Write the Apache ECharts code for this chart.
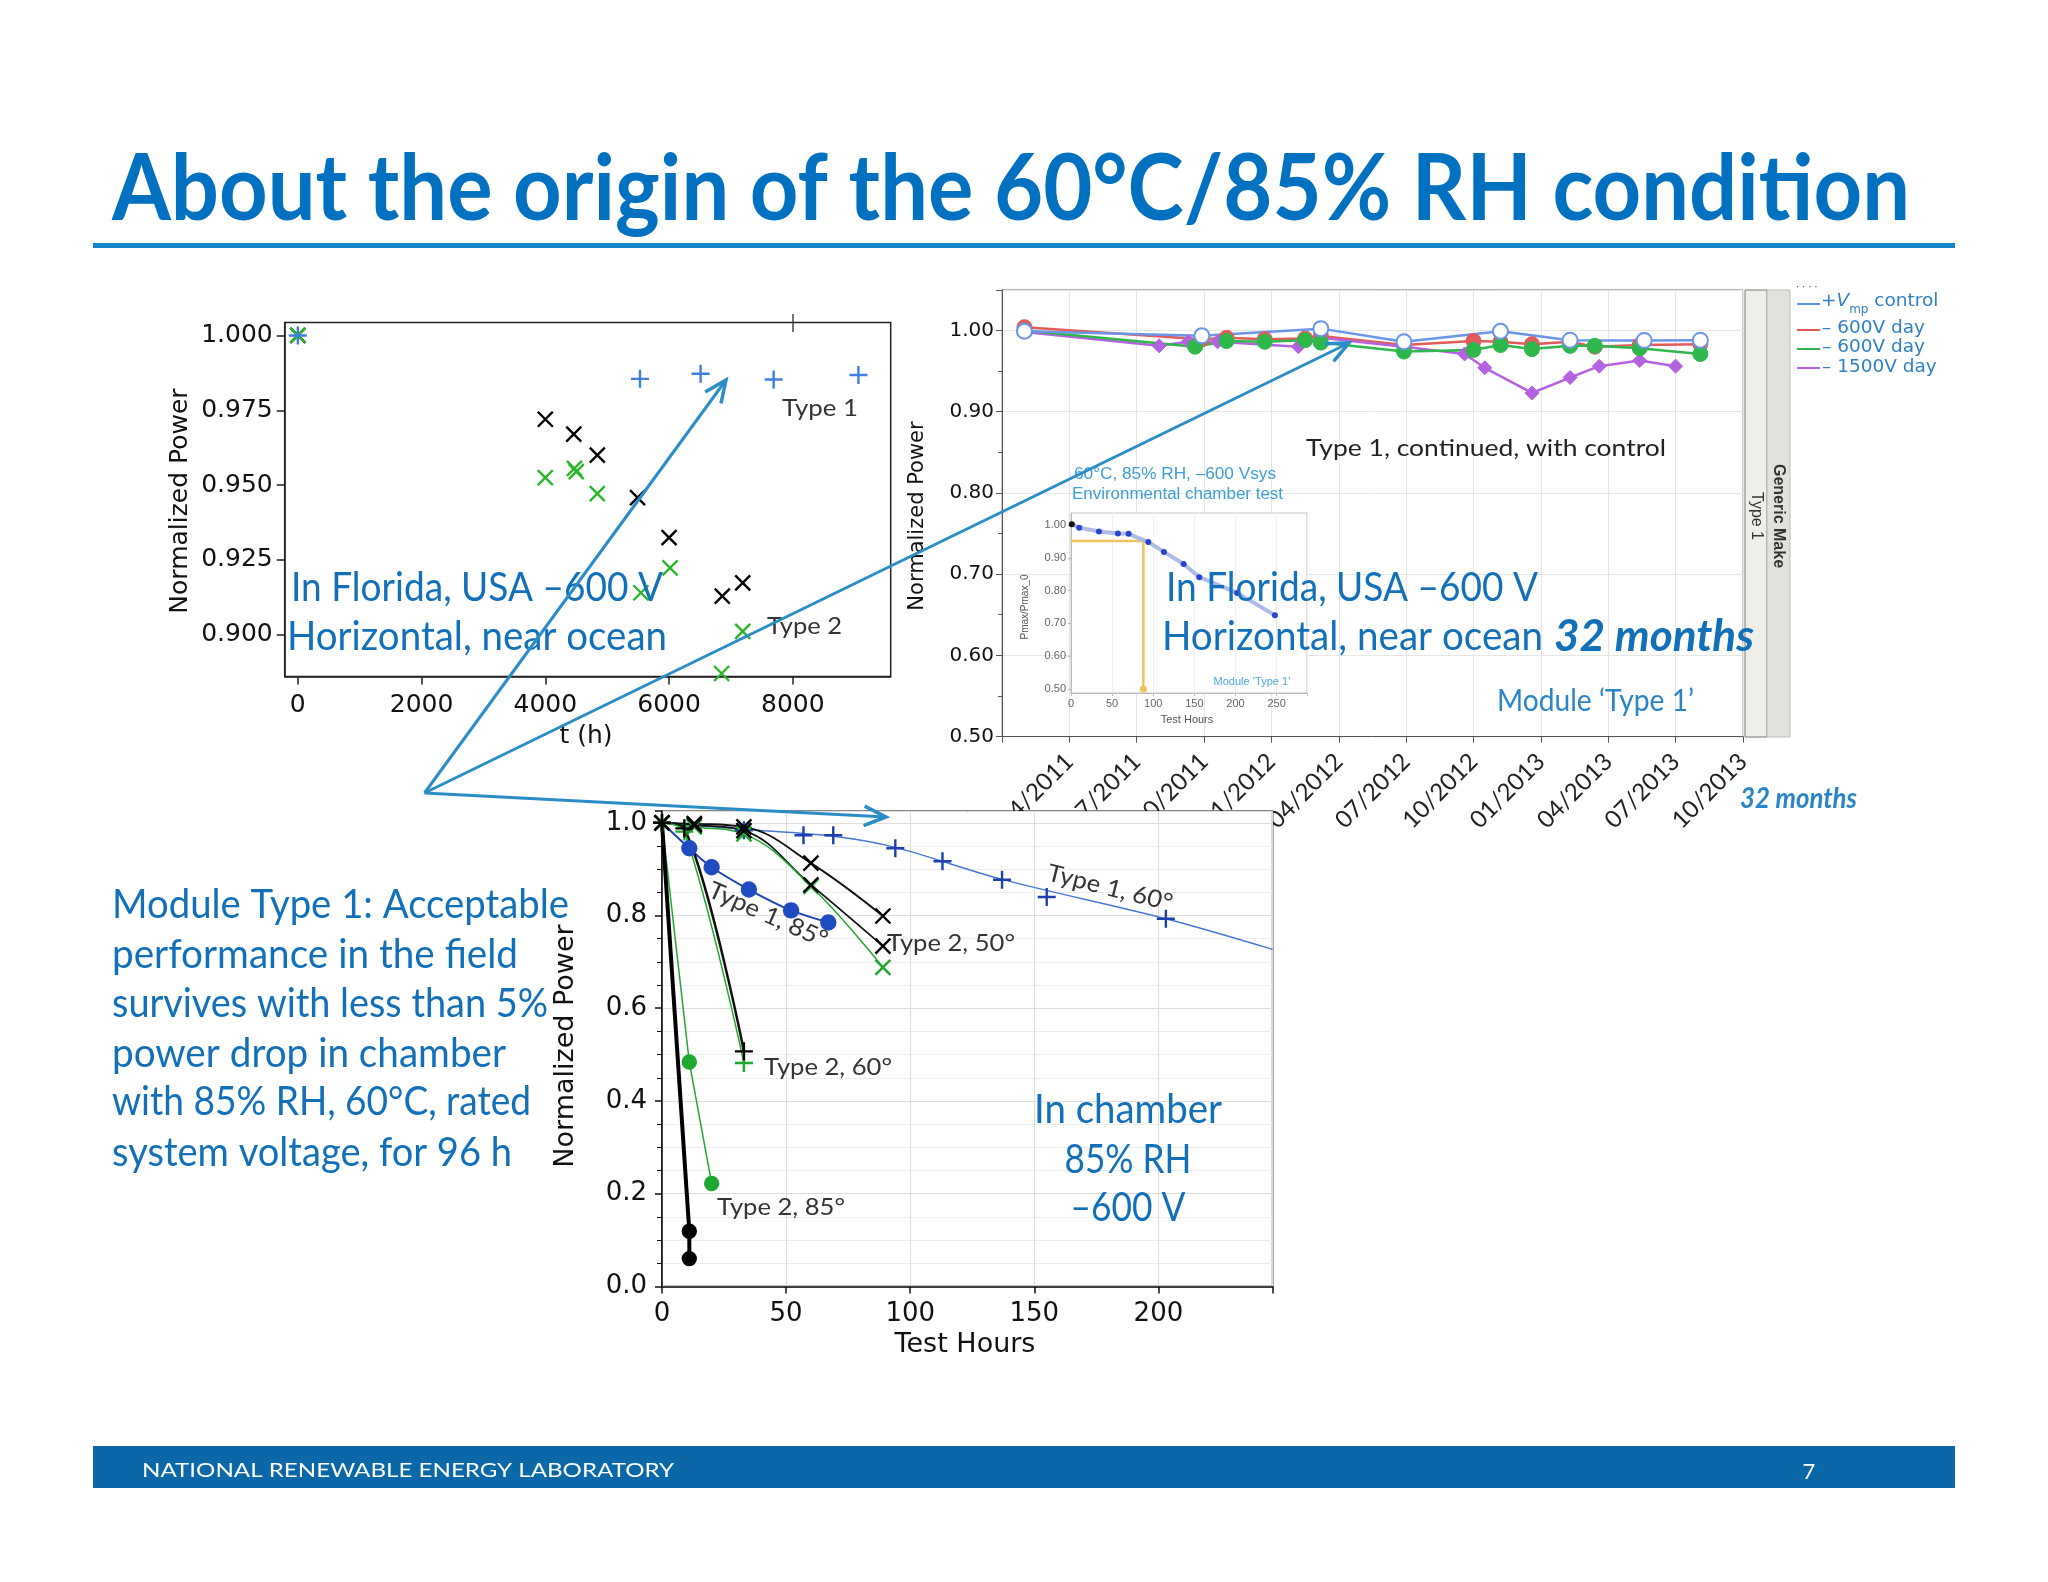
<!DOCTYPE html>
<html>
<head>
<meta charset="utf-8">
<title>About the origin of the 60°C/85% RH condition</title>
<script src="https://cdn.jsdelivr.net/npm/echarts@6.0.0/dist/echarts.min.js"></script>
<style>
  html, body { margin: 0; padding: 0; background: #fff; overflow: hidden; }
  #slide { width: 2048px; height: 1582px; }
</style>
</head>
<body>
<div id="slide"></div>
<script>
// ---- top left: field exposure in Florida, t (h) vs normalized power
var fieldType1 = [[0, 1.000], [5530, 0.9855], [6510, 0.9872], [7690, 0.9853], [9060, 0.9868]];
var fieldType2Black = [[0, 1.000], [4000, 0.9720], [4460, 0.9670], [4840, 0.9600], [5490, 0.9458],
  [6000, 0.9324], [6860, 0.9129], [7190, 0.9173]];
var fieldType2Green = [[0, 1.000], [4000, 0.9525], [4470, 0.9556], [4500, 0.9545], [4840, 0.9471],
  [5545, 0.9140], [6016, 0.9223], [7190, 0.9011], [6850, 0.8870]];
var fieldTicksX = [0, 2000, 4000, 6000, 8000];
var fieldTicksY = [0.900, 0.925, 0.950, 0.975, 1.000];

// ---- top right: 32 months outdoors, x = months counted from 01/2011
var dateTicks = ['', '04/2011', '07/2011', '10/2011', '01/2012', '04/2012', '07/2012',
  '10/2012', '01/2013', '04/2013', '07/2013', '10/2013'];
var controlPoints = [[1.0, 0.999], [8.9, 0.9934], [14.2, 1.0022], [17.9, 0.986], [22.2, 0.999],
  [25.3, 0.988], [28.6, 0.9877], [31.1, 0.988]];
var neg600aPoints = [[1.0, 1.004], [8.9, 0.989], [10.0, 0.991], [11.7, 0.989], [13.5, 0.990],
  [14.2, 0.993], [17.9, 0.982], [21.0, 0.987], [22.2, 0.986], [23.6, 0.983], [25.3, 0.986],
  [26.4, 0.980], [28.4, 0.982], [31.1, 0.983]];
var neg600bPoints = [[1.0, 1.000], [8.6, 0.980], [10.0, 0.987], [11.7, 0.986], [13.5, 0.988],
  [14.2, 0.985], [17.9, 0.974], [21.0, 0.976], [22.2, 0.982], [23.6, 0.977], [25.3, 0.981],
  [26.4, 0.981], [28.4, 0.978], [31.1, 0.971]];
var neg1500Points = [[1.0, 0.998], [7.0, 0.981], [8.3, 0.986], [9.6, 0.986], [13.2, 0.980],
  [14.2, 0.991], [17.9, 0.980], [20.6, 0.971], [21.5, 0.954], [23.6, 0.923], [25.3, 0.942],
  [26.6, 0.956], [28.4, 0.963], [30.0, 0.956]];

// ---- inset: environmental chamber test, module 'Type 1'
var insetHours = [1, 10, 34, 57, 70, 94, 113, 137, 156, 202, 248];
var insetPower = [1.002, 0.992, 0.980, 0.974, 0.973, 0.948, 0.918, 0.881, 0.841, 0.793, 0.725];
var insetLimit = [[0, 0.951], [88, 0.951], [88, 0.5]];
var insetTicksY = [0.5, 0.6, 0.7, 0.8, 0.9, 1.0];

// ---- bottom: chamber, test hours vs normalized power
var t1At60 = [[0, 1.0], [33, 0.984], [57, 0.973], [69, 0.973], [94, 0.945], [113, 0.917],
  [137, 0.877], [155, 0.840], [203, 0.793]];
var t1At60Fit = [[0, 1.0], [33, 0.986], [69, 0.971], [94, 0.947], [137, 0.878], [203, 0.793], [246, 0.727]];
var t1At85 = [[0, 1.0], [11, 0.945], [20, 0.904], [35, 0.856], [52, 0.811], [67, 0.785]];
var t2At50a = [[0, 1.0], [13, 0.998], [33, 0.991], [60, 0.913], [89, 0.799]];
var t2At50b = [[0, 1.0], [13, 0.995], [33, 0.983], [60, 0.866], [89, 0.734]];
var t2At50c = [[0, 1.0], [13, 0.991], [33, 0.976], [60, 0.863], [89, 0.688]];
var t2At60a = [[0, 1.0], [9, 0.988], [33, 0.507]];
var t2At60b = [[0, 1.0], [9, 0.981], [33, 0.482]];
var t2At85a = [[0, 1.0], [11, 0.484], [20, 0.222]];
var t2At85b = [[0, 1.0], [11, 0.119], [11, 0.060]];
var limitPower = 0.946;
var limitHours = 95;

var legendLabels = ['+V', '– 600V day', '– 600V day', '– 1500V day'];
var legendColors = ['#5f8fe6', '#e05a5a', '#33b04c', '#b062e0'];

var blueText = '#1270b9';
var arrowBlue = '#2b8dc7';
var axisFont = 'DejaVu Sans';
var crossPath = 'path://M-1,-1L1,1M-1,1L1,-1';
var plusPath = 'path://M-1,0L1,0M0,-1L0,1';

var measureCtx = document.createElement('canvas').getContext('2d');
function measure(text, size, family, weight, italic) {
  measureCtx.font = (italic ? 'italic ' : '') + (weight || 'normal') + ' ' + size + 'px "' + family + '"';
  return measureCtx.measureText(text).width;
}

// text element; if width is given the text is squeezed to that width
function txt(text, x, y, o) {
  o = o || {};
  var size = o.size || 24, family = o.family || 'Lato', weight = o.weight || 'normal';
  var sx = o.width ? o.width / measure(text, size, family, weight, o.italic) : 1;
  return {
    type: 'text', x: x, y: y, rotation: o.rot || 0, scaleX: sx, z: o.z || 100, silent: true,
    style: {
      text: text, fontSize: size, fontFamily: family, fontWeight: weight,
      fontStyle: o.italic ? 'italic' : 'normal', fill: o.color || '#333',
      align: o.align || 'left', verticalAlign: 'middle'
    }
  };
}

function arrow(x0, y0, x1, y1) {
  var a = Math.atan2(y1 - y0, x1 - x0), L = 24, s = 0.42;
  return [
    { type: 'line', z: 100, silent: true, shape: { x1: x0, y1: y0, x2: x1, y2: y1 },
      style: { stroke: arrowBlue, lineWidth: 3 } },
    { type: 'polyline', z: 100, silent: true,
      shape: { points: [[x1 - L * Math.cos(a - s), y1 - L * Math.sin(a - s)], [x1, y1],
        [x1 - L * Math.cos(a + s), y1 - L * Math.sin(a + s)]] },
      style: { stroke: arrowBlue, lineWidth: 3.5, fill: null } }
  ];
}

function marks(data, idx, symbol, color, size, z) {
  return {
    type: 'scatter', xAxisIndex: idx, yAxisIndex: idx, data: data, symbol: symbol, symbolSize: size,
    z: z || 2, silent: true, itemStyle: { color: color, borderColor: color, borderWidth: 2.4, opacity: 1 }
  };
}

function curve(data, idx, color, width, smooth, z) {
  return {
    type: 'line', xAxisIndex: idx, yAxisIndex: idx, data: data, symbol: 'none', showSymbol: false,
    smooth: smooth, lineStyle: { color: color, width: width }, z: z || 2, silent: true
  };
}

function trend(data, color, symbol, size) {
  return {
    type: 'line', xAxisIndex: 1, yAxisIndex: 1, data: data, symbol: symbol, symbolSize: size,
    showSymbol: true, showAllSymbol: true, silent: true, z: 3,
    lineStyle: { color: color, width: 2.5 },
    itemStyle: { color: color, borderColor: color, borderWidth: symbol === 'emptyCircle' ? 2.5 : 1 }
  };
}

// ---- slide decoration and text
var g = [];
g.push({ type: 'rect', z: 90, silent: true, shape: { x: 93, y: 243, width: 1862, height: 5 }, style: { fill: '#0e86c8' } });
g.push({ type: 'rect', z: 90, silent: true, shape: { x: 93, y: 1446, width: 1862, height: 42 }, style: { fill: '#0a68a8' } });
g.push(txt('About the origin of the 60°C/85% RH condition', 112, 190,
  { size: 92, weight: 'bold', color: '#0070c0', width: 1798 }));
g.push(txt('NATIONAL RENEWABLE ENERGY LABORATORY', 142, 1471, { size: 20, color: '#fff', width: 532 }));
g.push(txt('7', 1809, 1472, { size: 22, color: '#fff', align: 'center' }));

var para = [['Module Type 1: Acceptable', 905, 457], ['performance in the field', 955, 406],
  ['survives with less than 5%', 1004, 436], ['power drop in chamber', 1054, 394],
  ['with 85% RH, 60°C, rated', 1102, 419], ['system voltage, for 96 h', 1153, 400]];
para.forEach(function (p) { g.push(txt(p[0], 112, p[1], { size: 40, color: blueText, width: p[2] })); });

// axis titles
g.push(txt('Normalized Power', 180, 501, { size: 25, family: axisFont, color: '#111', rot: Math.PI / 2, align: 'center' }));
g.push(txt('t (h)', 586, 736, { size: 25, family: axisFont, color: '#111', align: 'center' }));
g.push(txt('Normalized Power', 918, 516, { size: 21, family: axisFont, color: '#111', rot: Math.PI / 2, align: 'center' }));
g.push(txt('Normalized Power', 566, 1046, { size: 27, family: axisFont, color: '#111', rot: Math.PI / 2, align: 'center', z: 20 }));
g.push(txt('Test Hours', 965, 1345, { size: 27, family: axisFont, color: '#111', align: 'center' }));
g.push({ type: 'line', z: 20, silent: true, shape: { x1: 793, y1: 314, x2: 793, y2: 332 }, style: { stroke: '#444', lineWidth: 1.5 } });

// top left labels
g.push(txt('Type 1', 782, 408, { size: 24, width: 76 }));
g.push(txt('Type 2', 767, 626, { size: 24, width: 75 }));
g.push(txt('In Florida, USA –600 V', 291, 588, { size: 40, color: blueText, width: 372 }));
g.push(txt('Horizontal, near ocean', 287, 637, { size: 40, color: blueText, width: 380 }));

// top right labels
g.push({ type: 'rect', z: 20, silent: true, shape: { x: 1745, y: 290, width: 22, height: 447 }, style: { fill: '#efefea', stroke: '#777', lineWidth: 1 } });
g.push({ type: 'rect', z: 20, silent: true, shape: { x: 1767, y: 290, width: 23, height: 447 }, style: { fill: '#e2e2dc', stroke: '#bbb', lineWidth: 1 } });
g.push(txt('Generic Make', 1778, 516, { size: 16, weight: 'bold', family: 'Liberation Sans', color: '#333', rot: -Math.PI / 2, align: 'center' }));
g.push(txt('Type 1', 1756, 516, { size: 16, family: 'Liberation Sans', color: '#333', rot: -Math.PI / 2, align: 'center' }));
g.push(txt('Type 1, continued, with control', 1306, 448, { size: 24, color: '#222', width: 360 }));
g.push(txt('In Florida, USA –600 V', 1166, 588, { size: 40, color: blueText, width: 372 }));
g.push(txt('Horizontal, near ocean', 1162, 637, { size: 40, color: blueText, width: 381 }));
g.push(txt('32 months', 1554, 637, { size: 44, weight: 'bold', italic: true, color: blueText, width: 200 }));
g.push(txt('Module ‘Type 1’', 1497, 701, { size: 30, color: '#2a84c8', width: 197 }));
g.push(txt('32 months', 1740, 799, { size: 28, weight: 'bold', italic: true, color: '#2a84c8', width: 117 }));
g.push(txt('60°C, 85% RH, –600 Vsys', 1074, 475, { size: 16, family: 'Liberation Sans', color: '#3c9fd6', width: 202 }));
g.push(txt('Environmental chamber test', 1072, 495, { size: 16, family: 'Liberation Sans', color: '#3c9fd6', width: 211 }));
g.push(txt('Module ‘Type 1’', 1252, 682, { size: 11, family: 'Liberation Sans', color: '#4aa8e0', align: 'center', z: 20 }));
g.push(txt('Test Hours', 1187, 720, { size: 11, family: 'Liberation Sans', color: '#555', align: 'center', z: 20 }));
g.push(txt('Pmax/Pmax_0', 1025, 607, { size: 10, family: 'Liberation Sans', color: '#555', rot: Math.PI / 2, align: 'center', z: 20 }));

// legend of the top right chart
var legendY = [304, 330, 349, 368];
var legendTextY = [301, 328, 347, 367];
var legFont = 'DejaVu Sans', legSize = 18.5, legColor = '#2f7fc8';
legendLabels.forEach(function (lab, i) {
  g.push({ type: 'line', z: 20, silent: true, shape: { x1: 1797, y1: legendY[i], x2: 1820, y2: legendY[i] },
    style: { stroke: legendColors[i], lineWidth: 2 } });
  if (i === 0) {
    var w1 = measure('+', legSize, legFont);
    var w2 = measure('V', legSize, legFont, 'normal', true);
    var w3 = measure('mp', 12, legFont);
    g.push(txt('+', 1821, legendTextY[i], { size: legSize, family: legFont, color: legColor, z: 20 }));
    g.push(txt('V', 1821 + w1, legendTextY[i], { size: legSize, family: legFont, italic: true, color: legColor, z: 20 }));
    g.push(txt('mp', 1821 + w1 + w2, legendTextY[i] + 9, { size: 12, family: legFont, color: legColor, z: 20 }));
    g.push(txt(' control', 1821 + w1 + w2 + w3, legendTextY[i], { size: legSize, family: legFont, color: legColor, z: 20 }));
  } else {
    g.push(txt(lab, 1822, legendTextY[i], { size: legSize, family: legFont, color: legColor, z: 20 }));
  }
});
g.push(txt('· · · ·', 1796, 287, { size: 10, family: 'Liberation Sans', color: '#333', z: 20 }));

// bottom labels
g.push(txt('Type 1, 60°', 1110, 888, { size: 24, color: '#333', width: 128, rot: -0.245, align: 'center' }));
g.push(txt('Type 1, 85°', 768, 915, { size: 24, color: '#333', width: 128, rot: -0.42, align: 'center' }));
g.push(txt('Type 2, 50°', 887, 943, { size: 24, color: '#333', width: 128 }));
g.push(txt('Type 2, 60°', 764, 1067, { size: 24, color: '#333', width: 128 }));
g.push(txt('Type 2, 85°', 717, 1207, { size: 24, color: '#333', width: 128 }));
g.push(txt('In chamber', 1128, 1110, { size: 40, color: blueText, width: 188, align: 'center' }));
g.push(txt('85% RH', 1128, 1160, { size: 40, color: blueText, width: 127, align: 'center' }));
g.push(txt('–600 V', 1128, 1208, { size: 40, color: blueText, width: 115, align: 'center' }));

// arrows
g = g.concat(arrow(424.5, 793, 726, 380), arrow(424.5, 793, 1349, 343), arrow(424.5, 793, 886, 817));

var insetData = insetHours.map(function (h, i) {
  return i === 0 ? { value: [h, insetPower[i]], itemStyle: { color: '#111' } } : [h, insetPower[i]];
});
var insetLimitData = insetLimit.map(function (p, i) {
  return i === insetLimit.length - 1 ? { value: p, symbol: 'circle', symbolSize: 7 } : { value: p, symbol: 'none' };
});

var tickLine = function (c, w) { return { lineStyle: { color: c, width: w || 1 } }; };

var option = {
  animation: false,
  backgroundColor: '#fff',
  grid: [
    { left: 284.7, top: 322.6, width: 606, height: 353.9, show: true, borderColor: '#222', borderWidth: 1.5, backgroundColor: 'transparent', outerBoundsMode: 'none' },
    { left: 1002, top: 289.8, width: 741, height: 446.8, show: true, borderColor: '#999', borderWidth: 1, backgroundColor: 'transparent', outerBoundsMode: 'none' },
    { left: 1071, top: 513, width: 236, height: 180, show: true, borderColor: '#c4c4c4', borderWidth: 1, backgroundColor: '#fff', z: 5, outerBoundsMode: 'none' },
    { left: 662, top: 811.2, width: 610.6, height: 475.2, show: true, borderColor: '#111', borderWidth: 1.5, backgroundColor: '#fff', z: 10, outerBoundsMode: 'none' }
  ],
  xAxis: [
    { gridIndex: 0, type: 'value', min: -212, max: 9582,
      axisLine: { onZero: false, lineStyle: { color: '#222', width: 1.5 } },
      axisTick: { customValues: fieldTicksX, length: 8, lineStyle: { color: '#222', width: 1.5 } },
      axisLabel: { customValues: fieldTicksX, margin: 16, fontSize: 25, fontFamily: axisFont, color: '#111',
        formatter: function (v) { return String(v); } },
      splitLine: { show: false } },
    { gridIndex: 1, type: 'value', min: 0, max: 33, interval: 3,
      axisLine: { onZero: false, lineStyle: { color: '#555' } },
      axisTick: { length: 6, lineStyle: { color: '#555' } },
      axisLabel: { rotate: 45, margin: 21, fontSize: 24, fontFamily: 'Lato', color: '#222', showMinLabel: true, showMaxLabel: true,
        formatter: function (v) { return dateTicks[Math.round(v / 3)] || ''; } },
      splitLine: tickLine('#e6e6e6') },
    { gridIndex: 2, type: 'value', min: 0, max: 287, interval: 50, z: 6,
      axisLine: { onZero: false, lineStyle: { color: '#bbb' } },
      axisTick: { length: 3, lineStyle: { color: '#bbb' } },
      axisLabel: { margin: 5, fontSize: 11, fontFamily: 'Liberation Sans', color: '#666',
        formatter: function (v) { return v % 50 === 0 && v <= 250 ? String(v) : ''; } },
      splitLine: tickLine('#f0f0f0') },
    { gridIndex: 3, type: 'value', min: 0, max: 246, interval: 50, z: 11,
      axisLine: { onZero: false, lineStyle: { color: '#111', width: 1.5 } },
      axisTick: { length: 7, lineStyle: { color: '#111', width: 1.5 } },
      axisLabel: { margin: 15, fontSize: 26, fontFamily: axisFont, color: '#111',
        formatter: function (v) { return v % 50 === 0 && v <= 200 ? String(v) : ''; } },
      splitLine: tickLine('#dcdcdc') }
  ],
  yAxis: [
    { gridIndex: 0, type: 'value', min: 0.886, max: 1.0043,
      axisLine: { onZero: false, lineStyle: { color: '#222', width: 1.5 } },
      axisTick: { customValues: fieldTicksY, length: 8, lineStyle: { color: '#222', width: 1.5 } },
      axisLabel: { customValues: fieldTicksY, margin: 12, fontSize: 25, fontFamily: axisFont, color: '#111',
        formatter: function (v) { return v.toFixed(3); } },
      splitLine: { show: false } },
    { gridIndex: 1, type: 'value', min: 0.5, max: 1.05, interval: 0.1,
      axisLine: { onZero: false, lineStyle: { color: '#555' } },
      axisTick: { length: 6, lineStyle: { color: '#555' } },
      minorTick: { show: true, splitNumber: 2, length: 4, lineStyle: { color: '#555' } },
      axisLabel: { margin: 8, fontSize: 20, fontFamily: axisFont, color: '#111',
        formatter: function (v) { return v <= 1.0001 ? v.toFixed(2) : ''; } },
      splitLine: tickLine('#e6e6e6') },
    { gridIndex: 2, type: 'value', min: 0.4878, max: 1.0366, z: 6,
      axisLine: { onZero: false, lineStyle: { color: '#bbb' } },
      axisTick: { customValues: insetTicksY, length: 3, lineStyle: { color: '#bbb' } },
      axisLabel: { customValues: insetTicksY, margin: 5, fontSize: 11, fontFamily: 'Liberation Sans', color: '#666',
        formatter: function (v) { return v.toFixed(2); } },
      splitLine: { show: false } },
    { gridIndex: 3, type: 'value', min: 0, max: 1.025, interval: 0.2, z: 11,
      axisLine: { onZero: false, lineStyle: { color: '#111', width: 1.5 } },
      axisTick: { length: 7, lineStyle: { color: '#111', width: 1.5 } },
      minorTick: { show: true, splitNumber: 4, length: 5, lineStyle: { color: '#111' } },
      minorSplitLine: { show: true, lineStyle: { color: '#ededed' } },
      axisLabel: { margin: 15, fontSize: 26, fontFamily: axisFont, color: '#111',
        formatter: function (v) { return v <= 1.0001 ? v.toFixed(1) : ''; } },
      splitLine: tickLine('#dedede') }
  ],
  series: [
    // top left
    marks(fieldType2Black, 0, crossPath, '#000', 15),
    marks(fieldType2Green, 0, crossPath, '#2cb52c', 15),
    marks(fieldType1, 0, plusPath, '#3f7fe0', 18),
    // top right
    trend(neg600aPoints, '#e35a5a', 'circle', 15),
    trend(neg1500Points, '#b562e0', 'diamond', 14),
    trend(neg600bPoints, '#2eb84c', 'circle', 15),
    trend(controlPoints, '#6a95e8', 'emptyCircle', 15),
    // inset
    { type: 'line', xAxisIndex: 2, yAxisIndex: 2, data: insetLimitData, showSymbol: true, z: 7, silent: true,
      lineStyle: { color: '#f2c35a', width: 2.5 }, itemStyle: { color: '#f2c35a' } },
    { type: 'line', xAxisIndex: 2, yAxisIndex: 2, data: insetData, symbol: 'circle', symbolSize: 6, showAllSymbol: true,
      z: 7, silent: true, lineStyle: { color: '#aebbe8', width: 4 }, itemStyle: { color: '#2a45c8' } },
    // bottom
    (function () {
      var s = curve(t1At60Fit, 3, '#4778d2', 1.5, 0.3, 12);
      s.markLine = { silent: true, symbol: 'none', label: { show: false },
        lineStyle: { color: '#999', width: 1.5, type: 'solid' },
        data: [{ yAxis: limitPower }, { xAxis: limitHours }] };
      return s;
    })(),
    curve(t1At85, 3, '#1d43b0', 2, 0.3, 12),
    curve(t2At50a, 3, '#111', 1.8, 0.4, 12),
    curve(t2At50b, 3, '#111', 1.8, 0.4, 12),
    curve(t2At50c, 3, '#1ea82d', 1.5, 0.4, 12),
    curve(t2At60a, 3, '#111', 2.5, 0.35, 12),
    curve(t2At60b, 3, '#1ea82d', 1.5, 0.35, 12),
    curve(t2At85a, 3, '#1ea82d', 1.5, false, 12),
    curve(t2At85b, 3, '#000', 4, false, 12),
    marks(t1At60, 3, plusPath, '#1d3fae', 18, 13),
    marks(t1At85.slice(1), 3, 'circle', '#1f4cc0', 14, 13),
    marks(t2At50c, 3, crossPath, '#1ea82d', 15, 13),
    marks(t2At50a, 3, crossPath, '#000', 15, 13),
    marks(t2At50b, 3, crossPath, '#000', 15, 13),
    marks(t2At60b, 3, plusPath, '#1ea82d', 18, 13),
    marks(t2At60a, 3, plusPath, '#000', 18, 13),
    marks(t2At85a.slice(1), 3, 'circle', '#1ea82d', 13, 13),
    marks(t2At85b.slice(1), 3, 'circle', '#000', 13, 13)
  ],
  graphic: { elements: g }
};

var chart = echarts.init(document.getElementById('slide'), null, { renderer: 'canvas' });
chart.setOption(option);
</script>
</body>
</html>
